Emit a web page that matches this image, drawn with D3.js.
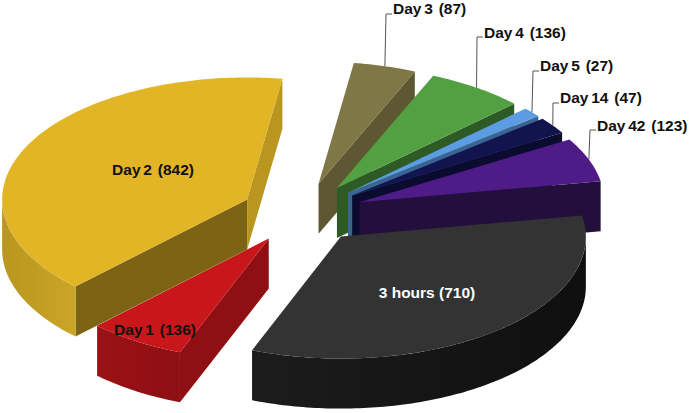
<!DOCTYPE html>
<html>
<head>
<meta charset="utf-8">
<script src="https://cdn.jsdelivr.net/npm/d3@7"></script>
<style>
	html, body { margin: 0; padding: 0; background: #fff; }
	text { font-family: "Liberation Sans", Arial, sans-serif; font-weight: bold; font-size: 15.5px; }
</style>
</head>
<body>
<div id="chart-area"></div>
<script>
const WIDTH = 689
const HEIGHT = 413

// Data, clockwise from the 3 hours slice
const categories = ["3 hours", "Day 1", "Day 2", "Day 3", "Day 4", "Day 5", "Day 14", "Day 42"]
const counts = [710, 136, 842, 87, 136, 27, 47, 123]

// Slice colours, same order
const topColors = ["#333333", "#C8161A", "#E2B526", "#7F7846", "#53A043", "#5B9CE2", "#12144F", "#4F1C87"]
const startCutColors = ["#151515", "#8F0F13", "#7D6414", "#5E5832", "#2E5A25", "#3A6593", "#0A0B2E", "#220F3C"]
const endCutColors = ["#151515", "#8F0F13", "#B8961F", "#5E5832", "#2E5A25", "#3A6593", "#0A0B2E", "#220F3C"]
const rimFromColors = ["#0F0F0F", "#8F0F13", "#CBA527", "#5E5832", "#2E5A25", "#3A6593", "#0A0B2E", "#220F3C"]
const rimToColors = ["#1C1C1C", "#9A1215", "#B8961F", "#5E5832", "#2E5A25", "#3A6593", "#0A0B2E", "#220F3C"]

// Painter's order, back to front
const drawOrder = ["Day 3", "Day 4", "Day 5", "Day 14", "Day 42", "3 hours", "Day 1", "Day 2"]

// Where the callouts go, the others sit on the slice
const calloutElbows = {
	"Day 3": [386, 14], "Day 4": [477, 37], "Day 5": [533, 71], "Day 14": [553, 103], "Day 42": [590, 130]
}
const calloutTextY = {
	"Day 3": 9, "Day 4": 33, "Day 5": 66, "Day 14": 98, "Day 42": 126
}
const insideLabels = {
	"3 hours": [427, 293], "Day 1": [155, 330], "Day 2": [153, 170]
}

// Pie geometry: a flat ellipse with a parallel projection
const CENTER = { X: 302, Y: 213 }
const RADIUS = { X: 245, Y: 122 }
const DEPTH = 50
const EXPLODE = 0.25
const START = 80 * Math.PI / 180

const x = d3.scaleLinear().domain([-1, 1]).range([CENTER.X - RADIUS.X, CENTER.X + RADIUS.X])
const y = d3.scaleLinear().domain([-1, 1]).range([CENTER.Y - RADIUS.Y, CENTER.Y + RADIUS.Y])
const color = d3.scaleOrdinal().domain(categories).range(topColors)
const startCut = d3.scaleOrdinal().domain(categories).range(startCutColors)
const endCut = d3.scaleOrdinal().domain(categories).range(endCutColors)
const rimFrom = d3.scaleOrdinal().domain(categories).range(rimFromColors)
const rimTo = d3.scaleOrdinal().domain(categories).range(rimToColors)

const svg = d3.select("#chart-area").append("svg")
	.attr("width", WIDTH)
	.attr("height", HEIGHT)
	.style("display", "block")
const defs = svg.append("defs")

const pie = d3.pie()
	.value((d, i) => counts[i])
	.sort(null)
	.startAngle(START)
	.endAngle(START + 2 * Math.PI)

const slices = pie(categories).map(d => {
	d.mid = (d.startAngle + d.endAngle) / 2
	d.dx = EXPLODE * Math.sin(d.mid)
	d.dy = -EXPLODE * Math.cos(d.mid)
	return d
})

const line = d3.line()

// point of a slice at angle a, r is 0 at the tip and 1 on the rim
function pt(d, a, r, drop) {
	return [
		x(d.dx + r * Math.sin(a)),
		y(d.dy - r * Math.cos(a)) + (drop || 0)
	]
}

function arcAngles(a0, a1) {
	const n = Math.max(2, Math.ceil((a1 - a0) * 60))
	return d3.range(n + 1).map(i => a0 + (a1 - a0) * i / n)
}

function wall(g, d, a, fill) {
	// flat cut side running from the tip to the rim
	g.append("path")
		.attr("d", line([pt(d, a, 0), pt(d, a, 1), pt(d, a, 1, DEPTH), pt(d, a, 0, DEPTH)]) + "Z")
		.attr("fill", fill)
}

// "Day 3 (87)" is set with a tight gap after Day and a wide one before the bracket
function labelText(sel, name) {
	const i = categories.indexOf(name)
	const parts = name.split(" ")
	if (parts[0] === "Day") {
		sel.append("tspan").text("Day ")
		sel.append("tspan").attr("dx", -1.5).text(parts[1] + " ")
		sel.append("tspan").attr("dx", 1.5).text("(" + counts[i] + ")")
	} else {
		sel.text(name + " (" + counts[i] + ")")
	}
}

const sorted = drawOrder.map(name => slices.find(d => d.data === name))

sorted.forEach((d, i) => {
	const g = svg.append("g").attr("class", "slice")
	const t0 = d.startAngle
	const t1 = d.endAngle

	// a cut side is visible when it faces down the screen
	if (Math.sin(t0) < 0) wall(g, d, t0, startCut(d.data))
	if (Math.sin(t1) > 0) wall(g, d, t1, endCut(d.data))

	// outer rim, only the part between 3 and 9 o'clock can be seen
	const r0 = Math.max(t0, Math.PI / 2)
	const r1 = Math.min(t1, 3 * Math.PI / 2)
	if (r0 < r1) {
		const rim = arcAngles(r0, r1)
		const gradient = defs.append("linearGradient")
			.attr("id", "rim" + i)
			.attr("gradientUnits", "userSpaceOnUse")
			.attr("x1", pt(d, r0, 1)[0])
			.attr("x2", pt(d, r1, 1)[0])
			.attr("y1", 0)
			.attr("y2", 0)
		gradient.append("stop").attr("offset", 0).attr("stop-color", rimFrom(d.data))
		gradient.append("stop").attr("offset", 1).attr("stop-color", rimTo(d.data))
		g.append("path")
			.attr("d", line(rim.map(a => pt(d, a, 1)).concat(rim.slice().reverse().map(a => pt(d, a, 1, DEPTH)))) + "Z")
			.attr("fill", "url(#rim" + i + ")")
	}

	// top face
	g.append("path")
		.attr("d", line([pt(d, t0, 0)].concat(arcAngles(t0, t1).map(a => pt(d, a, 1)))) + "Z")
		.attr("fill", color(d.data))
})

// Callouts
slices.filter(d => calloutElbows[d.data]).forEach(d => {
	const elbow = calloutElbows[d.data]
	svg.append("path")
		.attr("d", line([pt(d, d.mid, 1), elbow, [elbow[0] + 6, elbow[1]]]))
		.attr("fill", "none")
		.attr("stroke", "#555555")
		.attr("stroke-width", 1)
	svg.append("text")
		.attr("x", elbow[0] + 7)
		.attr("y", calloutTextY[d.data])
		.attr("dy", "0.35em")
		.attr("fill", "#111111")
		.call(labelText, d.data)
})

// Labels sitting on the slices
Object.keys(insideLabels).forEach(name => {
	svg.append("text")
		.attr("x", insideLabels[name][0])
		.attr("y", insideLabels[name][1])
		.attr("dy", "0.35em")
		.attr("text-anchor", "middle")
		.attr("fill", name === "3 hours" ? "#FFFFFF" : "#111111")
		.call(labelText, name)
})
</script>
</body>
</html>
